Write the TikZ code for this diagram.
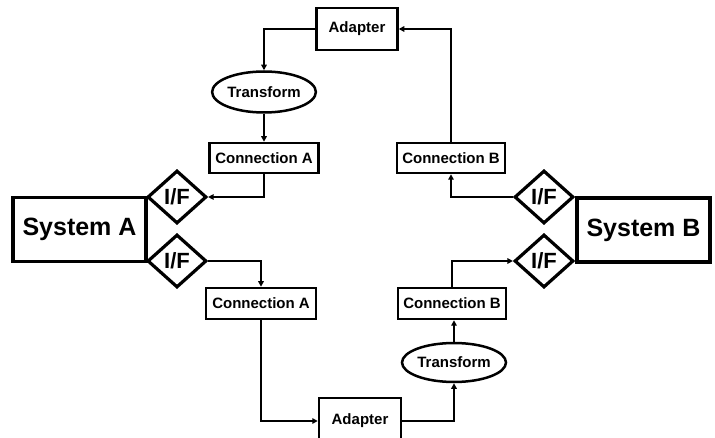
\documentclass[tikz,border=0pt]{standalone}
\usepackage{fontspec}
\setmainfont{Liberation Sans}
\usetikzlibrary{shapes.geometric,arrows.meta}
\begin{document}
\begin{tikzpicture}[x=1pt,y=-1pt,
  box/.style={draw,line width=2.5pt,inner sep=0pt,font=\fontsize{15}{15}\selectfont\bfseries},
  sysbox/.style={draw,line width=3.2pt,inner sep=0pt,minimum width=133pt,minimum height=64pt,font=\fontsize{25}{25}\selectfont\bfseries},
  ifd/.style={draw,diamond,line width=3.2pt,inner sep=0pt,minimum width=59pt,minimum height=53pt,font=\fontsize{22}{22}\selectfont\bfseries},
  trans/.style={draw,ellipse,line width=2.5pt,inner sep=0pt,minimum width=101pt,minimum height=41pt,font=\fontsize{15}{15}\selectfont\bfseries},
  conn/.style={line width=2.2pt,-{Triangle[length=5.5pt,width=5.5pt]}}]
\useasboundingbox (0,0) rectangle (715,438);
\node[sysbox] (sysA) at (79.5,229.5) {System A};
\node[sysbox] (sysB) at (643.5,230) {System B};
\node[ifd] (ifA1) at (177,197) {I/F};
\node[ifd] (ifA2) at (177,261) {I/F};
\node[ifd] (ifB1) at (544,197) {I/F};
\node[ifd] (ifB2) at (544,261) {I/F};
\node[box,minimum width=81pt,minimum height=42pt] (adT) at (357,29) {Adapter};
\node[trans] (trT) at (264,92) {Transform};
\node[box,minimum width=109pt,minimum height=30pt] (cnA1) at (264,158) {Connection A};
\node[box,minimum width=108pt,minimum height=30pt] (cnB1) at (451,158) {Connection B};
\node[box,minimum width=110pt,minimum height=31pt] (cnA2) at (261,303.5) {Connection A};
\node[box,minimum width=108pt,minimum height=31pt] (cnB2) at (452,303.5) {Connection B};
\node[trans,minimum width=104pt,minimum height=39pt] (trB) at (454,362.5) {Transform};
\node[box,minimum width=82pt,minimum height=46pt] (adB) at (360,421) {Adapter};
\draw[conn] (adT.west) -| (trT.north);
\draw[conn] (trT.south) -- (cnA1.north);
\draw[conn] (cnA1.south) |- (ifA1.east);
\draw[conn] (ifB1.west) -| (cnB1.south);
\draw[conn] (cnB1.north) |- (adT.east);
\draw[conn] (ifA2.east) -| (cnA2.north);
\draw[conn] (cnA2.south) |- (adB.west);
\draw[conn] (adB.east) -| (trB.south);
\draw[conn] (trB.north) -- (trB.north |- cnB2.south);
\draw[conn] (cnB2.north) |- (ifB2.west);
\end{tikzpicture}
\end{document}
